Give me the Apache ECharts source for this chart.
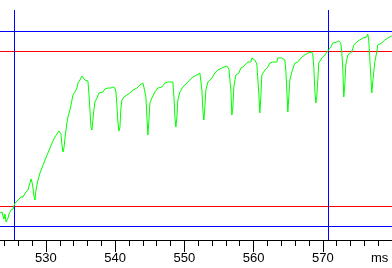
<!DOCTYPE html>
<html>
<head>
<meta charset="utf-8">
<script src="https://cdn.jsdelivr.net/npm/echarts@6/dist/echarts.min.js"></script>
<style>
  html, body { margin: 0; padding: 0; background: #ffffff; }
  #chart { width: 392px; height: 268px; }
</style>
</head>
<body>
<div id="chart"></div>
<script>
// Time axis (ms)
const timeMs = [
  523.36,523.50,523.65,523.79,523.94,524.08,524.23,524.37,524.52,524.66,
  524.80,524.95,525.09,525.24,525.38,525.53,525.81,526.10,526.39,526.68,
  526.83,527.11,527.40,527.55,527.69,527.84,527.98,528.13,528.27,528.41,
  528.56,528.85,529.14,529.42,529.86,530.29,530.58,531.01,531.30,531.59,
  531.88,532.02,532.17,532.31,532.46,532.60,532.75,533.03,533.18,533.47,
  533.76,533.90,534.19,534.48,534.62,534.91,535.20,535.35,535.63,536.07,
  536.21,536.36,536.50,536.64,536.79,536.93,537.08,537.37,537.66,537.80,
  537.94,538.23,538.52,538.96,539.39,539.68,539.82,539.97,540.11,540.25,
  540.40,540.54,540.69,540.83,540.98,541.27,541.70,542.13,542.57,543.14,
  543.58,544.01,544.15,544.44,544.59,544.73,544.88,545.02,545.31,545.74,
  546.18,546.75,547.19,547.62,548.34,548.49,548.63,548.77,548.92,549.06,
  549.35,549.79,550.36,550.80,551.23,551.81,552.24,552.38,552.53,552.67,
  552.82,552.96,553.11,553.40,553.97,554.41,554.84,555.42,555.56,556.14,
  556.43,556.72,556.86,557.01,557.15,557.44,557.87,558.16,558.45,558.88,
  559.17,559.60,559.75,560.18,560.47,560.62,560.76,560.90,561.05,561.19,
  561.63,562.06,562.35,562.78,563.36,563.50,564.08,564.51,564.66,564.80,
  564.95,565.09,565.24,565.52,565.96,566.39,566.97,567.40,567.84,568.12,
  568.41,568.56,568.70,568.85,568.99,569.13,569.28,569.42,569.86,570.29,
  570.72,571.16,571.45,571.73,572.02,572.31,572.60,572.74,572.89,573.03,
  573.18,573.32,573.61,574.19,574.48,574.91,575.34,575.78,576.35,576.50,
  576.64,576.79,576.93,577.08,577.22,577.51,577.80,577.94,578.52,578.95,
  579.39,579.96
];
// Signal level (arbitrary units)
const level = [
  27,26,28,24,21,26,18,16,22,26,
  28,30,28,31,34,37,39,41,43,43,
  45,48,50,54,57,61,58,52,44,40,
  50,60,67,72,80,87,92,99,103,106,
  109,111,106,95,88,92,102,117,123,130,
  140,145,148,152,157,160,164,162,160,159,
  146,130,113,110,112,130,138,142,147,145,
  149,148,151,152,152,153,155,152,148,135,
  118,109,113,132,140,143,145,147,150,152,
  155,157,153,143,123,105,120,137,142,148,
  152,153,157,158,158,143,123,113,123,140,
  148,153,157,160,163,165,167,165,150,130,
  120,133,150,158,162,167,170,172,174,174,
  171,150,125,133,153,165,167,172,173,176,
  178,178,182,180,176,160,147,127,143,165,
  170,173,177,178,178,182,182,180,170,150,
  128,143,160,168,177,178,183,185,187,187,
  188,185,173,150,137,143,160,177,182,185,
  189,193,197,195,198,199,197,188,172,143,
  155,175,185,188,195,198,200,202,203,206,
  200,182,165,147,158,178,188,195,197,200,
  202,204
];
// Axis range and ticks (ms)
const xRange = [523.36, 580];
const majorTicks = [530, 540, 550, 560, 570, 580];
const majorLabels = [530, 540, 550, 560, 570];
const minorTicks = [524, 526, 528, 532, 534, 536, 538, 542, 544, 546, 548, 552, 554, 556, 558, 562, 564, 566, 568, 572, 574, 576, 578];
// Reference levels and cursors
const hLevels = [208.5, 188.5, 33.5, 13.5];
const hColors = ['#0000ff', '#ff0000', '#ff0000', '#0000ff'];
const cursorsMs = [525.45, 570.80];
const cursorSpan = [0, 230];

const chart = echarts.init(document.getElementById('chart'), null, { renderer: 'canvas' });
const seriesData = timeMs.map((t, i) => [t, level[i]]);

const markData = hLevels.map((v, i) => ({ yAxis: v, lineStyle: { color: hColors[i], width: 1, type: 'solid' } }));
cursorsMs.forEach(c => {
  markData.push([
    { coord: [c, cursorSpan[0]], lineStyle: { color: '#0000ff', width: 1, type: 'solid' } },
    { coord: [c, cursorSpan[1]] }
  ]);
});

chart.setOption({
  animation: false,
  backgroundColor: '#ffffff',
  grid: { left: 0, right: 0, top: 0, bottom: 28 },
  xAxis: [{
    type: 'value',
    min: xRange[0], max: xRange[1],
    axisLine: { show: true, lineStyle: { color: '#000000', width: 1 } },
    axisTick: { show: true, length: 12, customValues: majorTicks, lineStyle: { color: '#000000', width: 1 } },
    splitLine: { show: false },
    axisLabel: {
      color: '#000000', fontFamily: 'Liberation Sans', fontSize: 13, margin: 12,
      customValues: majorLabels,
      showMinLabel: true, showMaxLabel: true,
      formatter: v => String(v)
    }
  }, {
    type: 'value',
    position: 'bottom',
    min: xRange[0], max: xRange[1],
    axisLine: { show: false },
    axisTick: { show: true, length: 6, customValues: minorTicks, lineStyle: { color: '#000000', width: 1 } },
    axisLabel: { show: false },
    splitLine: { show: false }
  }],
  yAxis: { type: 'value', min: 0, max: 240, show: false },
  graphic: [{
    type: 'text', left: 371, top: 252,
    style: { text: 'ms', font: '13px "Liberation Sans"', fill: '#000000' }
  }],
  series: [{
    type: 'line',
    xAxisIndex: 0,
    data: seriesData,
    showSymbol: false,
    lineStyle: { color: '#00ff00', width: 1 },
    z: 3,
    markLine: {
      silent: true, symbol: 'none', animation: false,
      label: { show: false },
      z: 2,
      data: markData
    }
  }]
});
</script>
</body>
</html>
